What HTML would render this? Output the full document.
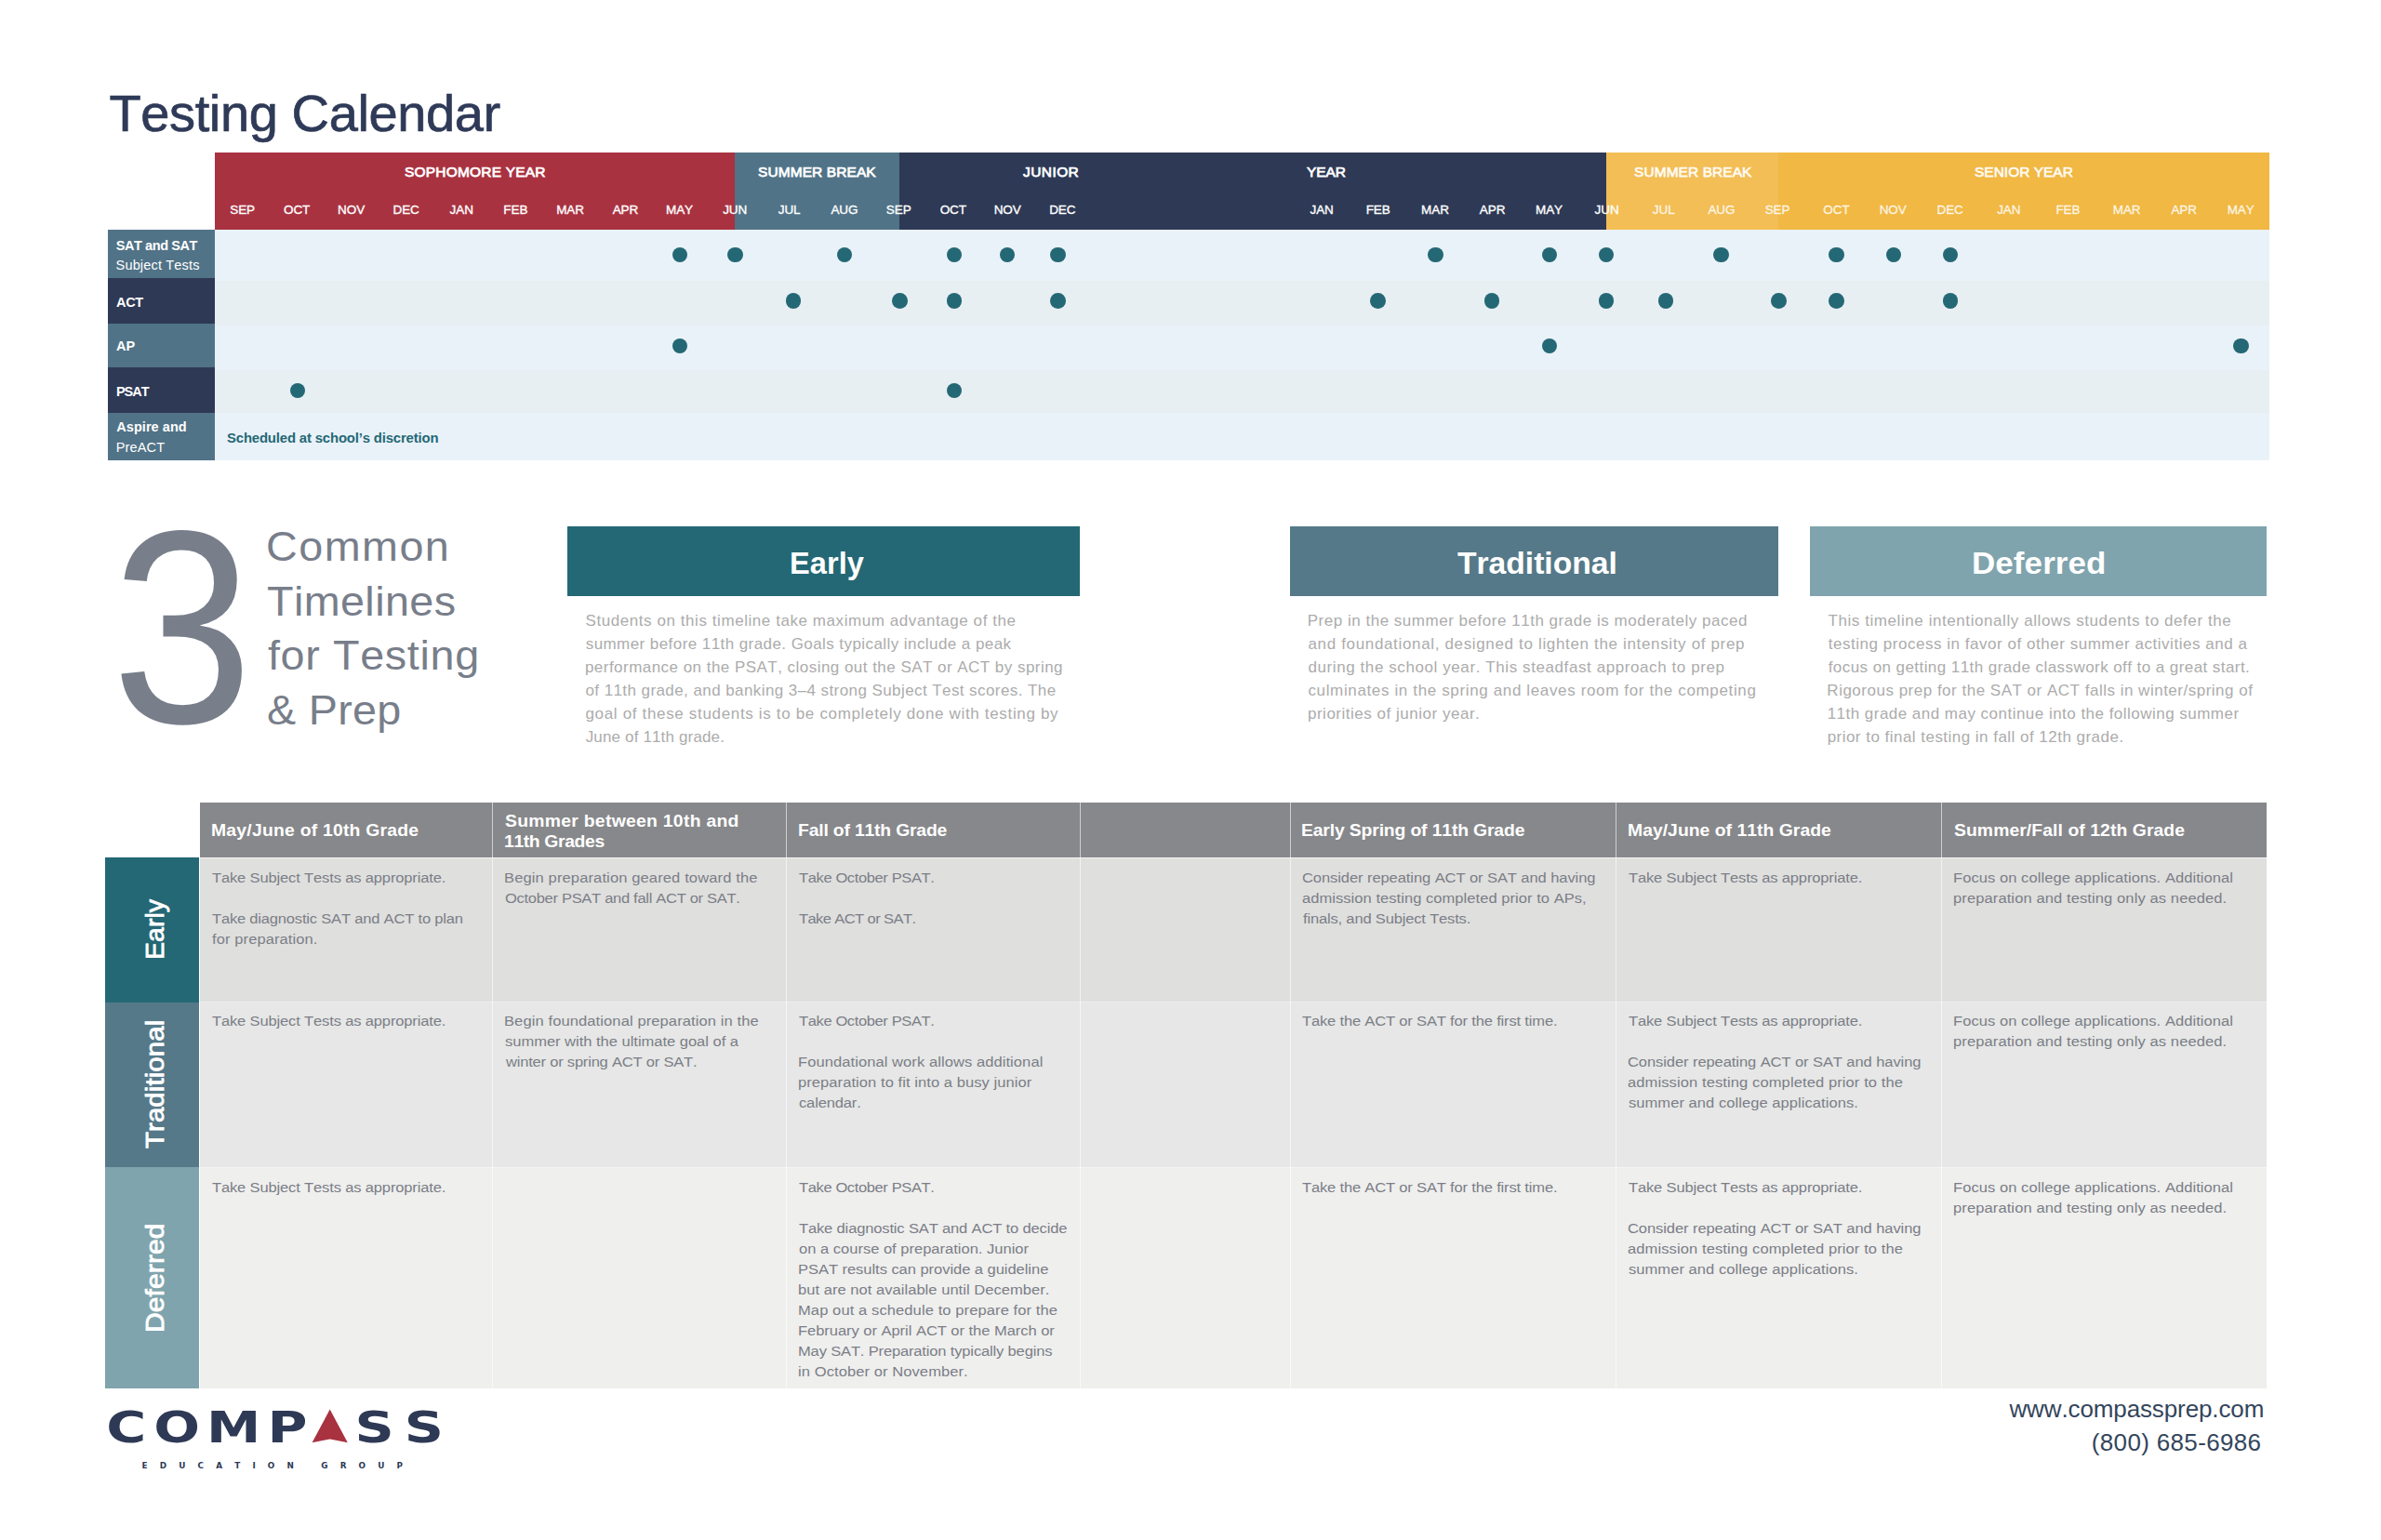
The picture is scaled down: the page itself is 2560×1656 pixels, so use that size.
<!DOCTYPE html>
<html lang="en"><head><meta charset="utf-8"><title>Testing Calendar</title>
<style>
html,body{margin:0;padding:0;background:#fff;}
body{width:2560px;height:1656px;overflow:hidden;font-family:"Liberation Sans",sans-serif;}
#page{position:relative;width:2560px;height:1656px;overflow:hidden;background:#fff;}
.b{position:absolute;}
.t{position:absolute;white-space:nowrap;line-height:1;font-kerning:none;}
.dot{position:absolute;width:16.6px;height:16.6px;border-radius:50%;background:#246875;}

.sm{-webkit-text-stroke:0.35px currentColor;}
.sb{-webkit-text-stroke:0.8px currentColor;}
.st{-webkit-text-stroke:0.7px currentColor;}
.sm2{-webkit-text-stroke:0.75px currentColor;}

</style></head>
<body>
<div id="page">
<div class="b" style="left:231.0px;top:164.0px;width:559.0px;height:83.0px;background:#a93241;"></div>
<div class="b" style="left:790.0px;top:164.0px;width:177.0px;height:83.0px;background:#517387;"></div>
<div class="b" style="left:967.0px;top:164.0px;width:760.0px;height:83.0px;background:#2e3955;"></div>
<div class="b" style="left:1727.0px;top:164.0px;width:185.0px;height:83.0px;background:#f3be55;"></div>
<div class="b" style="left:1912.0px;top:164.0px;width:528.0px;height:83.0px;background:#f1b843;"></div>
<div class="b" style="left:231.0px;top:247.0px;width:2209.0px;height:55.0px;background:#eaf2f9;"></div>
<div class="b" style="left:231.0px;top:302.0px;width:2209.0px;height:48.0px;background:#e8eff3;"></div>
<div class="b" style="left:231.0px;top:350.0px;width:2209.0px;height:48.0px;background:#eaf2f9;"></div>
<div class="b" style="left:231.0px;top:398.0px;width:2209.0px;height:46.0px;background:#e8eff3;"></div>
<div class="b" style="left:231.0px;top:444.0px;width:2209.0px;height:51.0px;background:#eaf2f9;"></div>
<div class="b" style="left:116.0px;top:247.0px;width:115.0px;height:52.0px;background:#517387;"></div>
<div class="b" style="left:116.0px;top:299.0px;width:115.0px;height:49.0px;background:#2e3955;"></div>
<div class="b" style="left:116.0px;top:348.0px;width:115.0px;height:47.0px;background:#517387;"></div>
<div class="b" style="left:116.0px;top:395.0px;width:115.0px;height:49.0px;background:#2e3955;"></div>
<div class="b" style="left:116.0px;top:444.0px;width:115.0px;height:51.0px;background:#517387;"></div>
<div class="dot" style="left:722.9px;top:265.7px"></div>
<div class="dot" style="left:782.0px;top:265.7px"></div>
<div class="dot" style="left:899.7px;top:265.7px"></div>
<div class="dot" style="left:1017.7px;top:265.7px"></div>
<div class="dot" style="left:1074.7px;top:265.7px"></div>
<div class="dot" style="left:1129.3px;top:265.7px"></div>
<div class="dot" style="left:1535.2px;top:265.7px"></div>
<div class="dot" style="left:1657.7px;top:265.7px"></div>
<div class="dot" style="left:1718.7px;top:265.7px"></div>
<div class="dot" style="left:1842.2px;top:265.7px"></div>
<div class="dot" style="left:1966.4px;top:265.7px"></div>
<div class="dot" style="left:2027.5px;top:265.7px"></div>
<div class="dot" style="left:2088.7px;top:265.7px"></div>
<div class="dot" style="left:844.7px;top:315.4px"></div>
<div class="dot" style="left:959.2px;top:315.4px"></div>
<div class="dot" style="left:1017.7px;top:315.4px"></div>
<div class="dot" style="left:1129.3px;top:315.4px"></div>
<div class="dot" style="left:1473.4px;top:315.4px"></div>
<div class="dot" style="left:1595.7px;top:315.4px"></div>
<div class="dot" style="left:1718.7px;top:315.4px"></div>
<div class="dot" style="left:1782.7px;top:315.4px"></div>
<div class="dot" style="left:1904.2px;top:315.4px"></div>
<div class="dot" style="left:1966.4px;top:315.4px"></div>
<div class="dot" style="left:2088.7px;top:315.4px"></div>
<div class="dot" style="left:722.9px;top:363.5px"></div>
<div class="dot" style="left:1657.7px;top:363.5px"></div>
<div class="dot" style="left:2401.1px;top:363.5px"></div>
<div class="dot" style="left:311.7px;top:411.7px"></div>
<div class="dot" style="left:1017.7px;top:411.7px"></div>
<div class="b" style="left:610.0px;top:566.0px;width:551.0px;height:75.0px;background:#246875;"></div>
<div class="b" style="left:1387.0px;top:566.0px;width:525.0px;height:75.0px;background:#557989;"></div>
<div class="b" style="left:1946.0px;top:566.0px;width:491.0px;height:75.0px;background:#80a4ad;"></div>
<div class="b" style="left:215.0px;top:863.0px;width:2222.0px;height:59.0px;background:#87888b;"></div>
<div class="b" style="left:215.0px;top:922.0px;width:2222.0px;height:155.0px;background:#dfdfde;"></div>
<div class="b" style="left:215.0px;top:1077.0px;width:2222.0px;height:1.0px;background:#eeeeee;"></div>
<div class="b" style="left:215.0px;top:1078.0px;width:2222.0px;height:177.0px;background:#e6e7e6;"></div>
<div class="b" style="left:215.0px;top:1255.0px;width:2222.0px;height:1.0px;background:#f4f4f4;"></div>
<div class="b" style="left:215.0px;top:1256.0px;width:2222.0px;height:237.0px;background:#efefee;"></div>
<div class="b" style="left:529.0px;top:863.0px;width:1.0px;height:630.0px;background:rgba(255,255,255,0.6);"></div>
<div class="b" style="left:845.0px;top:863.0px;width:1.0px;height:630.0px;background:rgba(255,255,255,0.6);"></div>
<div class="b" style="left:1161.0px;top:863.0px;width:1.0px;height:630.0px;background:rgba(255,255,255,0.6);"></div>
<div class="b" style="left:1387.0px;top:863.0px;width:1.0px;height:630.0px;background:rgba(255,255,255,0.6);"></div>
<div class="b" style="left:1737.0px;top:863.0px;width:1.0px;height:630.0px;background:rgba(255,255,255,0.6);"></div>
<div class="b" style="left:2087.0px;top:863.0px;width:1.0px;height:630.0px;background:rgba(255,255,255,0.6);"></div>
<div class="b" style="left:215.0px;top:922.0px;width:2222.0px;height:1.0px;background:rgba(255,255,255,0.6);"></div>
<div class="b" style="left:113.0px;top:922.0px;width:101.0px;height:156.0px;background:#246875;"></div>
<div class="b" style="left:113.0px;top:1078.0px;width:101.0px;height:177.0px;background:#557989;"></div>
<div class="b" style="left:113.0px;top:1255.0px;width:101.0px;height:238.0px;background:#80a4ad;"></div>
<span class="t st" style="font-size:56px;color:#2e3a57;letter-spacing:-0.374px;left:117.42px;top:93.90px;">Testing Calendar</span>
<span class="t sm2" style="font-size:15.3px;color:#fff;letter-spacing:0.226px;left:435.02px;top:176.55px;transform-origin:0 0;transform:scaleX(1.01);">SOPHOMORE YEAR</span>
<span class="t sm2" style="font-size:15.3px;color:#fff;letter-spacing:0.116px;left:814.52px;top:176.55px;transform-origin:0 0;transform:scaleX(1.01);">SUMMER BREAK</span>
<span class="t sm2" style="font-size:15.3px;color:#fff;letter-spacing:0.447px;left:1099.76px;top:176.55px;transform-origin:0 0;transform:scaleX(1.01);">JUNIOR</span>
<span class="t sm2" style="font-size:15.3px;color:#fff;letter-spacing:-0.034px;left:1404.56px;top:176.55px;transform-origin:0 0;transform:scaleX(1.01);">YEAR</span>
<span class="t sm2" style="font-size:15.3px;color:rgba(255,255,255,0.88);letter-spacing:0.098px;left:1756.52px;top:176.55px;transform-origin:0 0;transform:scaleX(1.01);">SUMMER BREAK</span>
<span class="t sm2" style="font-size:15.3px;color:rgba(255,255,255,0.88);letter-spacing:0.020px;left:2123.22px;top:176.55px;transform-origin:0 0;transform:scaleX(1.01);">SENIOR YEAR</span>
<span class="t sm" style="font-size:13.5px;color:#fff;letter-spacing:-0.100px;left:247.27px;top:218.67px;">SEP</span>
<span class="t sm" style="font-size:13.5px;color:#fff;letter-spacing:-0.100px;left:305.05px;top:218.67px;">OCT</span>
<span class="t sm" style="font-size:13.5px;color:#fff;letter-spacing:-0.100px;left:363.11px;top:218.67px;">NOV</span>
<span class="t sm" style="font-size:13.5px;color:#fff;letter-spacing:-0.100px;left:422.56px;top:218.67px;">DEC</span>
<span class="t sm" style="font-size:13.5px;color:#fff;letter-spacing:-0.100px;left:483.59px;top:218.67px;">JAN</span>
<span class="t sm" style="font-size:13.5px;color:#fff;letter-spacing:-0.100px;left:541.33px;top:218.67px;">FEB</span>
<span class="t sm" style="font-size:13.5px;color:#fff;letter-spacing:-0.100px;left:598.21px;top:218.67px;">MAR</span>
<span class="t sm" style="font-size:13.5px;color:#fff;letter-spacing:-0.100px;left:658.65px;top:218.67px;">APR</span>
<span class="t sm" style="font-size:13.5px;color:#fff;letter-spacing:-0.100px;left:716.02px;top:218.67px;">MAY</span>
<span class="t sm" style="font-size:13.5px;color:#fff;letter-spacing:-0.100px;left:777.22px;top:218.67px;">JUN</span>
<span class="t sm" style="font-size:13.5px;color:#fff;letter-spacing:-0.100px;left:836.76px;top:218.67px;">JUL</span>
<span class="t sm" style="font-size:13.5px;color:#fff;letter-spacing:-0.100px;left:893.38px;top:218.67px;">AUG</span>
<span class="t sm" style="font-size:13.5px;color:#fff;letter-spacing:-0.100px;left:952.87px;top:218.67px;">SEP</span>
<span class="t sm" style="font-size:13.5px;color:#fff;letter-spacing:-0.100px;left:1010.65px;top:218.67px;">OCT</span>
<span class="t sm" style="font-size:13.5px;color:#fff;letter-spacing:-0.100px;left:1068.71px;top:218.67px;">NOV</span>
<span class="t sm" style="font-size:13.5px;color:#fff;letter-spacing:-0.100px;left:1128.16px;top:218.67px;">DEC</span>
<span class="t sm" style="font-size:13.5px;color:#fff;letter-spacing:-0.100px;left:1408.49px;top:218.67px;">JAN</span>
<span class="t sm" style="font-size:13.5px;color:#fff;letter-spacing:-0.100px;left:1468.73px;top:218.67px;">FEB</span>
<span class="t sm" style="font-size:13.5px;color:#fff;letter-spacing:-0.100px;left:1528.11px;top:218.67px;">MAR</span>
<span class="t sm" style="font-size:13.5px;color:#fff;letter-spacing:-0.100px;left:1590.85px;top:218.67px;">APR</span>
<span class="t sm" style="font-size:13.5px;color:#fff;letter-spacing:-0.100px;left:1651.02px;top:218.67px;">MAY</span>
<span class="t sm" style="font-size:13.5px;color:#fff;letter-spacing:-0.100px;left:1714.62px;top:218.67px;">JUN</span>
<span class="t sm" style="font-size:13.5px;color:rgba(255,255,255,0.82);letter-spacing:-0.100px;left:1776.86px;top:218.67px;">JUL</span>
<span class="t sm" style="font-size:13.5px;color:rgba(255,255,255,0.82);letter-spacing:-0.100px;left:1836.48px;top:218.67px;">AUG</span>
<span class="t sm" style="font-size:13.5px;color:rgba(255,255,255,0.82);letter-spacing:-0.100px;left:1897.67px;top:218.67px;">SEP</span>
<span class="t sm" style="font-size:13.5px;color:rgba(255,255,255,0.82);letter-spacing:-0.100px;left:1960.35px;top:218.67px;">OCT</span>
<span class="t sm" style="font-size:13.5px;color:rgba(255,255,255,0.82);letter-spacing:-0.100px;left:2020.71px;top:218.67px;">NOV</span>
<span class="t sm" style="font-size:13.5px;color:rgba(255,255,255,0.82);letter-spacing:-0.100px;left:2082.56px;top:218.67px;">DEC</span>
<span class="t sm" style="font-size:13.5px;color:rgba(255,255,255,0.82);letter-spacing:-0.100px;left:2147.19px;top:218.67px;">JAN</span>
<span class="t sm" style="font-size:13.5px;color:rgba(255,255,255,0.82);letter-spacing:-0.100px;left:2210.43px;top:218.67px;">FEB</span>
<span class="t sm" style="font-size:13.5px;color:rgba(255,255,255,0.82);letter-spacing:-0.100px;left:2271.81px;top:218.67px;">MAR</span>
<span class="t sm" style="font-size:13.5px;color:rgba(255,255,255,0.82);letter-spacing:-0.100px;left:2334.45px;top:218.67px;">APR</span>
<span class="t sm" style="font-size:13.5px;color:rgba(255,255,255,0.82);letter-spacing:-0.100px;left:2394.72px;top:218.67px;">MAY</span>
<span class="t" style="font-weight:bold;font-size:14.5px;color:#fff;letter-spacing:-0.419px;left:124.77px;top:256.73px;">SAT and SAT</span>
<span class="t" style="font-size:14.5px;color:#fff;letter-spacing:0.172px;left:124.55px;top:278.23px;">Subject Tests</span>
<span class="t" style="font-weight:bold;font-size:14.5px;color:#fff;letter-spacing:-0.326px;left:125.07px;top:317.73px;">ACT</span>
<span class="t" style="font-weight:bold;font-size:14.5px;color:#fff;letter-spacing:-0.034px;left:125.07px;top:365.43px;">AP</span>
<span class="t" style="font-weight:bold;font-size:14.5px;color:#fff;letter-spacing:-0.981px;left:124.89px;top:413.53px;">PSAT</span>
<span class="t" style="font-weight:bold;font-size:14.5px;color:#fff;letter-spacing:0.058px;left:125.27px;top:451.83px;">Aspire and</span>
<span class="t" style="font-size:14.5px;color:#fff;letter-spacing:0.163px;left:124.67px;top:473.73px;">PreACT</span>
<span class="t" style="font-weight:bold;font-size:14.3px;color:#246875;letter-spacing:-0.145px;left:244.17px;top:463.50px;transform-origin:0 0;transform:scaleX(1.04);">Scheduled at school’s discretion</span>
<span class="t" style="left:119.66px;top:524.51px;font-size:100px;color:#787e8a;transform-origin:0 0;transform:scale(2.7314,2.9635);">3</span>
<span class="t" style="font-size:44.5px;color:#787e8a;letter-spacing:1.384px;left:285.81px;top:566.03px;transform-origin:0 0;transform:scaleX(1.05);">Common</span>
<span class="t" style="font-size:44.5px;color:#787e8a;letter-spacing:0.365px;left:287.27px;top:624.63px;transform-origin:0 0;transform:scaleX(1.05);">Timelines</span>
<span class="t" style="font-size:44.5px;color:#787e8a;letter-spacing:0.608px;left:288.00px;top:682.93px;transform-origin:0 0;transform:scaleX(1.05);">for Testing</span>
<span class="t" style="font-size:44.5px;color:#787e8a;letter-spacing:0.288px;left:286.54px;top:741.53px;transform-origin:0 0;transform:scaleX(1.05);">&amp; Prep</span>
<span class="t" style="font-weight:bold;font-size:33px;color:#fff;letter-spacing:0.078px;left:849.27px;top:589.47px;transform-origin:0 0;transform:scaleX(0.985);">Early</span>
<span class="t" style="font-weight:bold;font-size:33px;color:#fff;letter-spacing:-0.025px;left:1566.50px;top:589.47px;transform-origin:0 0;transform:scaleX(1.02);">Traditional</span>
<span class="t" style="font-weight:bold;font-size:33px;color:#fff;letter-spacing:0.075px;left:2119.81px;top:589.47px;transform-origin:0 0;transform:scaleX(1.06);">Deferred</span>
<span class="t" style="font-size:17px;color:#acacac;letter-spacing:0.568px;left:629.47px;top:659.11px;">Students on this timeline take maximum advantage of the</span>
<span class="t" style="font-size:17px;color:#acacac;letter-spacing:0.429px;left:629.73px;top:684.11px;">summer before 11th grade. Goals typically include a peak</span>
<span class="t" style="font-size:17px;color:#acacac;letter-spacing:0.466px;left:628.94px;top:709.11px;">performance on the PSAT, closing out the SAT or ACT by spring</span>
<span class="t" style="font-size:17px;color:#acacac;letter-spacing:0.419px;left:629.47px;top:734.11px;">of 11th grade, and banking 3–4 strong Subject Test scores. The</span>
<span class="t" style="font-size:17px;color:#acacac;letter-spacing:0.666px;left:629.47px;top:759.11px;">goal of these students is to be completely done with testing by</span>
<span class="t" style="font-size:17px;color:#acacac;letter-spacing:0.150px;left:629.73px;top:784.11px;">June of 11th grade.</span>
<span class="t" style="font-size:17px;color:#acacac;letter-spacing:0.521px;left:1405.67px;top:659.11px;">Prep in the summer before 11th grade is moderately paced</span>
<span class="t" style="font-size:17px;color:#acacac;letter-spacing:0.656px;left:1406.47px;top:684.11px;">and foundational, designed to lighten the intensity of prep</span>
<span class="t" style="font-size:17px;color:#acacac;letter-spacing:0.587px;left:1406.47px;top:709.11px;">during the school year. This steadfast approach to prep</span>
<span class="t" style="font-size:17px;color:#acacac;letter-spacing:0.637px;left:1406.47px;top:734.11px;">culminates in the spring and leaves room for the competing</span>
<span class="t" style="font-size:17px;color:#acacac;letter-spacing:0.518px;left:1405.94px;top:759.11px;">priorities of junior year.</span>
<span class="t" style="font-size:17px;color:#acacac;letter-spacing:0.576px;left:1965.43px;top:659.11px;">This timeline intentionally allows students to defer the</span>
<span class="t" style="font-size:17px;color:#acacac;letter-spacing:0.531px;left:1965.70px;top:684.11px;">testing process in favor of other summer activities and a</span>
<span class="t" style="font-size:17px;color:#acacac;letter-spacing:0.432px;left:1965.70px;top:709.11px;">focus on getting 11th grade classwork off to a great start.</span>
<span class="t" style="font-size:17px;color:#acacac;letter-spacing:0.502px;left:1964.37px;top:734.11px;">Rigorous prep for the SAT or ACT falls in winter/spring of</span>
<span class="t" style="font-size:17px;color:#acacac;letter-spacing:0.476px;left:1964.64px;top:759.11px;">11th grade and may continue into the following summer</span>
<span class="t" style="font-size:17px;color:#acacac;letter-spacing:0.473px;left:1964.64px;top:784.11px;">prior to final testing in fall of 12th grade.</span>
<span class="t" style="font-weight:bold;font-size:17.6px;color:#fff;letter-spacing:0.208px;left:226.79px;top:885.30px;transform-origin:0 0;transform:scaleX(1.1);">May/June of 10th Grade</span>
<span class="t" style="font-weight:bold;font-size:17.6px;color:#fff;letter-spacing:0.254px;left:542.90px;top:874.60px;transform-origin:0 0;transform:scaleX(1.1);">Summer between 10th and</span>
<span class="t" style="font-weight:bold;font-size:17.6px;color:#fff;letter-spacing:-0.337px;left:541.99px;top:896.70px;transform-origin:0 0;transform:scaleX(1.1);">11th Grades</span>
<span class="t" style="font-weight:bold;font-size:17.6px;color:#fff;letter-spacing:-0.167px;left:858.09px;top:885.30px;transform-origin:0 0;transform:scaleX(1.1);">Fall of 11th Grade</span>
<span class="t" style="font-weight:bold;font-size:17.6px;color:#fff;letter-spacing:-0.135px;left:1399.49px;top:885.30px;transform-origin:0 0;transform:scaleX(1.1);">Early Spring of 11th Grade</span>
<span class="t" style="font-weight:bold;font-size:17.6px;color:#fff;letter-spacing:0.021px;left:1749.59px;top:885.30px;transform-origin:0 0;transform:scaleX(1.1);">May/June of 11th Grade</span>
<span class="t" style="font-weight:bold;font-size:17.6px;color:#fff;letter-spacing:0.065px;left:2100.90px;top:885.30px;transform-origin:0 0;transform:scaleX(1.1);">Summer/Fall of 12th Grade</span>
<span class="t" style="font-size:15.3px;color:#7b7e86;letter-spacing:-0.137px;left:227.74px;top:935.65px;transform-origin:0 0;transform:scaleX(1.08);">Take Subject Tests as appropriate.</span>
<span class="t" style="font-size:15.3px;color:#7b7e86;letter-spacing:-0.176px;left:227.74px;top:979.65px;transform-origin:0 0;transform:scaleX(1.08);">Take diagnostic SAT and ACT to plan</span>
<span class="t" style="font-size:15.3px;color:#7b7e86;letter-spacing:0.088px;left:228.00px;top:1001.65px;transform-origin:0 0;transform:scaleX(1.08);">for preparation.</span>
<span class="t" style="font-size:15.3px;color:#7b7e86;letter-spacing:0.115px;left:542.11px;top:935.65px;transform-origin:0 0;transform:scaleX(1.08);">Begin preparation geared toward the</span>
<span class="t" style="font-size:15.3px;color:#7b7e86;letter-spacing:-0.280px;left:542.63px;top:957.65px;transform-origin:0 0;transform:scaleX(1.08);">October PSAT and fall ACT or SAT.</span>
<span class="t" style="font-size:15.3px;color:#7b7e86;letter-spacing:-0.359px;left:859.04px;top:935.65px;transform-origin:0 0;transform:scaleX(1.08);">Take October PSAT.</span>
<span class="t" style="font-size:15.3px;color:#7b7e86;letter-spacing:-0.551px;left:859.04px;top:979.65px;transform-origin:0 0;transform:scaleX(1.08);">Take ACT or SAT.</span>
<span class="t" style="font-size:15.3px;color:#7b7e86;letter-spacing:-0.076px;left:1399.93px;top:935.65px;transform-origin:0 0;transform:scaleX(1.08);">Consider repeating ACT or SAT and having</span>
<span class="t" style="font-size:15.3px;color:#7b7e86;letter-spacing:0.041px;left:1400.18px;top:957.65px;transform-origin:0 0;transform:scaleX(1.08);">admission testing completed prior to APs,</span>
<span class="t" style="font-size:15.3px;color:#7b7e86;letter-spacing:-0.160px;left:1400.70px;top:979.65px;transform-origin:0 0;transform:scaleX(1.08);">finals, and Subject Tests.</span>
<span class="t" style="font-size:15.3px;color:#7b7e86;letter-spacing:-0.137px;left:1750.64px;top:935.65px;transform-origin:0 0;transform:scaleX(1.08);">Take Subject Tests as appropriate.</span>
<span class="t" style="font-size:15.3px;color:#7b7e86;letter-spacing:0.059px;left:2099.91px;top:935.65px;transform-origin:0 0;transform:scaleX(1.08);">Focus on college applications. Additional</span>
<span class="t" style="font-size:15.3px;color:#7b7e86;letter-spacing:0.096px;left:2100.17px;top:957.65px;transform-origin:0 0;transform:scaleX(1.08);">preparation and testing only as needed.</span>
<span class="t" style="font-size:15.3px;color:#7b7e86;letter-spacing:-0.137px;left:227.74px;top:1090.05px;transform-origin:0 0;transform:scaleX(1.08);">Take Subject Tests as appropriate.</span>
<span class="t" style="font-size:15.3px;color:#7b7e86;letter-spacing:0.094px;left:542.11px;top:1090.05px;transform-origin:0 0;transform:scaleX(1.08);">Begin foundational preparation in the</span>
<span class="t" style="font-size:15.3px;color:#7b7e86;letter-spacing:-0.017px;left:543.14px;top:1112.05px;transform-origin:0 0;transform:scaleX(1.08);">summer with the ultimate goal of a</span>
<span class="t" style="font-size:15.3px;color:#7b7e86;letter-spacing:-0.194px;left:543.66px;top:1134.05px;transform-origin:0 0;transform:scaleX(1.08);">winter or spring ACT or SAT.</span>
<span class="t" style="font-size:15.3px;color:#7b7e86;letter-spacing:-0.359px;left:859.04px;top:1090.05px;transform-origin:0 0;transform:scaleX(1.08);">Take October PSAT.</span>
<span class="t" style="font-size:15.3px;color:#7b7e86;letter-spacing:0.068px;left:858.01px;top:1134.05px;transform-origin:0 0;transform:scaleX(1.08);">Foundational work allows additional</span>
<span class="t" style="font-size:15.3px;color:#7b7e86;letter-spacing:0.064px;left:858.27px;top:1156.05px;transform-origin:0 0;transform:scaleX(1.08);">preparation to fit into a busy junior</span>
<span class="t" style="font-size:15.3px;color:#7b7e86;letter-spacing:-0.135px;left:858.78px;top:1178.05px;transform-origin:0 0;transform:scaleX(1.08);">calendar.</span>
<span class="t" style="font-size:15.3px;color:#7b7e86;letter-spacing:-0.157px;left:1400.44px;top:1090.05px;transform-origin:0 0;transform:scaleX(1.08);">Take the ACT or SAT for the first time.</span>
<span class="t" style="font-size:15.3px;color:#7b7e86;letter-spacing:-0.137px;left:1750.64px;top:1090.05px;transform-origin:0 0;transform:scaleX(1.08);">Take Subject Tests as appropriate.</span>
<span class="t" style="font-size:15.3px;color:#7b7e86;letter-spacing:-0.076px;left:1750.13px;top:1134.05px;transform-origin:0 0;transform:scaleX(1.08);">Consider repeating ACT or SAT and having</span>
<span class="t" style="font-size:15.3px;color:#7b7e86;letter-spacing:0.095px;left:1750.38px;top:1156.05px;transform-origin:0 0;transform:scaleX(1.08);">admission testing completed prior to the</span>
<span class="t" style="font-size:15.3px;color:#7b7e86;letter-spacing:0.048px;left:1750.64px;top:1178.05px;transform-origin:0 0;transform:scaleX(1.08);">summer and college applications.</span>
<span class="t" style="font-size:15.3px;color:#7b7e86;letter-spacing:0.059px;left:2099.91px;top:1090.05px;transform-origin:0 0;transform:scaleX(1.08);">Focus on college applications. Additional</span>
<span class="t" style="font-size:15.3px;color:#7b7e86;letter-spacing:0.096px;left:2100.17px;top:1112.05px;transform-origin:0 0;transform:scaleX(1.08);">preparation and testing only as needed.</span>
<span class="t" style="font-size:15.3px;color:#7b7e86;letter-spacing:-0.137px;left:227.74px;top:1268.65px;transform-origin:0 0;transform:scaleX(1.08);">Take Subject Tests as appropriate.</span>
<span class="t" style="font-size:15.3px;color:#7b7e86;letter-spacing:-0.359px;left:859.04px;top:1268.65px;transform-origin:0 0;transform:scaleX(1.08);">Take October PSAT.</span>
<span class="t" style="font-size:15.3px;color:#7b7e86;letter-spacing:-0.139px;left:859.04px;top:1312.65px;transform-origin:0 0;transform:scaleX(1.08);">Take diagnostic SAT and ACT to decide</span>
<span class="t" style="font-size:15.3px;color:#7b7e86;left:858.78px;top:1334.65px;transform-origin:0 0;transform:scaleX(1.08);">on a course of preparation. Junior</span>
<span class="t" style="font-size:15.3px;color:#7b7e86;letter-spacing:-0.042px;left:858.01px;top:1356.65px;transform-origin:0 0;transform:scaleX(1.08);">PSAT results can provide a guideline</span>
<span class="t" style="font-size:15.3px;color:#7b7e86;letter-spacing:0.033px;left:858.27px;top:1378.65px;transform-origin:0 0;transform:scaleX(1.08);">but are not available until December.</span>
<span class="t" style="font-size:15.3px;color:#7b7e86;letter-spacing:0.090px;left:858.01px;top:1400.65px;transform-origin:0 0;transform:scaleX(1.08);">Map out a schedule to prepare for the</span>
<span class="t" style="font-size:15.3px;color:#7b7e86;letter-spacing:-0.037px;left:858.01px;top:1422.65px;transform-origin:0 0;transform:scaleX(1.08);">February or April ACT or the March or</span>
<span class="t" style="font-size:15.3px;color:#7b7e86;letter-spacing:-0.146px;left:858.01px;top:1444.65px;transform-origin:0 0;transform:scaleX(1.08);">May SAT. Preparation typically begins</span>
<span class="t" style="font-size:15.3px;color:#7b7e86;letter-spacing:0.076px;left:858.27px;top:1466.65px;transform-origin:0 0;transform:scaleX(1.08);">in October or November.</span>
<span class="t" style="font-size:15.3px;color:#7b7e86;letter-spacing:-0.157px;left:1400.44px;top:1268.65px;transform-origin:0 0;transform:scaleX(1.08);">Take the ACT or SAT for the first time.</span>
<span class="t" style="font-size:15.3px;color:#7b7e86;letter-spacing:-0.137px;left:1750.64px;top:1268.65px;transform-origin:0 0;transform:scaleX(1.08);">Take Subject Tests as appropriate.</span>
<span class="t" style="font-size:15.3px;color:#7b7e86;letter-spacing:-0.076px;left:1750.13px;top:1312.65px;transform-origin:0 0;transform:scaleX(1.08);">Consider repeating ACT or SAT and having</span>
<span class="t" style="font-size:15.3px;color:#7b7e86;letter-spacing:0.095px;left:1750.38px;top:1334.65px;transform-origin:0 0;transform:scaleX(1.08);">admission testing completed prior to the</span>
<span class="t" style="font-size:15.3px;color:#7b7e86;letter-spacing:0.048px;left:1750.64px;top:1356.65px;transform-origin:0 0;transform:scaleX(1.08);">summer and college applications.</span>
<span class="t" style="font-size:15.3px;color:#7b7e86;letter-spacing:0.059px;left:2099.91px;top:1268.65px;transform-origin:0 0;transform:scaleX(1.08);">Focus on college applications. Additional</span>
<span class="t" style="font-size:15.3px;color:#7b7e86;letter-spacing:0.096px;left:2100.17px;top:1290.65px;transform-origin:0 0;transform:scaleX(1.08);">preparation and testing only as needed.</span>
<span class="t" style="font-size:26px;color:#33455c;letter-spacing:-0.113px;left:2160.41px;top:1502.39px;">www.compassprep.com</span>
<span class="t" style="font-size:26px;color:#33455c;letter-spacing:0.344px;left:2248.78px;top:1537.99px;">(800) 685-6986</span>
<span class="t sb" style="font-size:28.5px;color:#fff;letter-spacing:0.024px;left:152.27px;top:1032.03px;transform-origin:0 0;transform:rotate(-90deg);">Early</span>
<span class="t sb" style="font-size:28.5px;color:#fff;letter-spacing:0.110px;left:152.27px;top:1235.06px;transform-origin:0 0;transform:rotate(-90deg) scaleX(1.03);">Traditional</span>
<span class="t sb" style="font-size:28.5px;color:#fff;letter-spacing:0.075px;left:152.27px;top:1433.25px;transform-origin:0 0;transform:rotate(-90deg) scaleX(1.055);">Deferred</span>
<span class="t" style="font-family:'DejaVu Sans',sans-serif;font-weight:bold;font-size:8.8px;color:#2e3955;letter-spacing:13.176px;left:152.61px;top:1572.16px;">EDUCATION GROUP</span>
<svg class="b" style="left:100px;top:1500px" width="400" height="70" viewBox="100 1500 400 70"><defs><clipPath id="lc"><rect x="100" y="1500" width="230.5" height="70"/><rect x="379" y="1500" width="121" height="70"/></clipPath></defs><g clip-path="url(#lc)"><text transform="scale(1.2891,1)" x="88.61 128.23 172.32 223.09 257.38 296.04 337.23" y="1551" font-family="'DejaVu Sans',sans-serif" font-weight="bold" font-size="45.481" fill="#2e3955" style="font-kerning:none">COMPASS</text></g><polygon points="354.7,1515.6 373.8,1551.2 354.7,1547.6 335.6,1551.2" fill="#a93241"/></svg>
</div>
</body></html>
